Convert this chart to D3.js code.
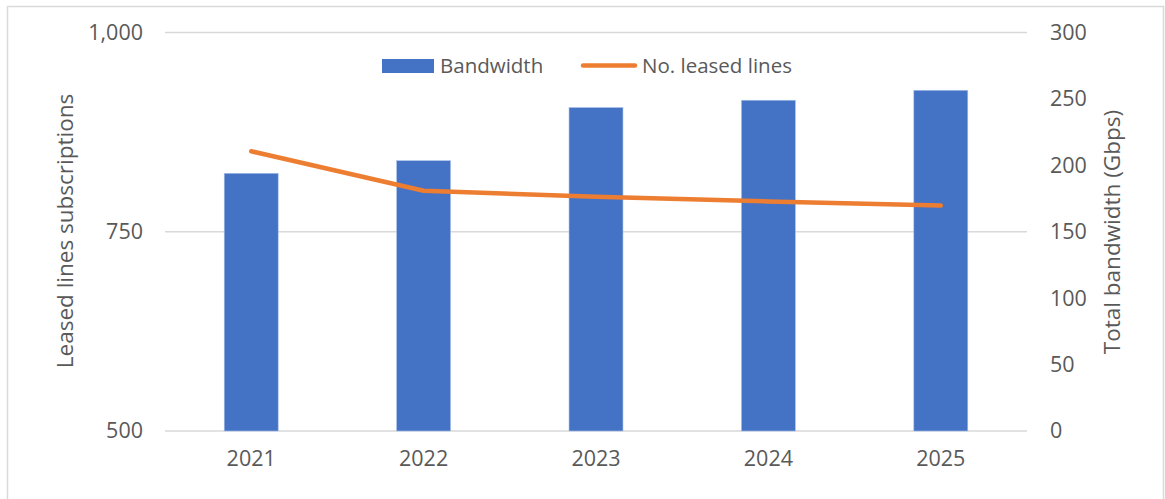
<!DOCTYPE html>
<html><head><meta charset="utf-8">
<script src="https://cdn.jsdelivr.net/npm/d3@7"></script>
<style>body{margin:0;background:#fff}svg{display:block}text{font-family:"Open Sans",sans-serif;fill:#595959}</style>
</head><body>
<svg id="c" width="1165" height="499"></svg>
<script>
const years = ["2021","2022","2023","2024","2025"];
const bandwidth = [194, 203.5, 243.5, 249, 256.5];
const leasedLines = [851, 801.5, 794, 788, 783];
const leftTicks = [500, 750, 1000];
const rightTicks = [0, 50, 100, 150, 200, 250, 300];

const svg = d3.select("#c");
const L = 165, R = 1027, T = 32.5, B = 431;
const FS = "21.5px";

svg.append("rect").attr("x",7.5).attr("y",6.5).attr("width",1156).attr("height",520)
  .attr("fill","none").attr("stroke","#d9d9d9").attr("stroke-width",1.5);

const x = d3.scaleBand().domain(years).range([L,R]).padding(0);
const yL = d3.scaleLinear().domain([500,1000]).range([B,T]);
const yR = d3.scaleLinear().domain([0,300]).range([B,T]);

// gridlines
svg.append("g").selectAll("line").data(leftTicks).join("line")
  .attr("x1",L).attr("x2",R).attr("y1",d=>yL(d)).attr("y2",d=>yL(d))
  .attr("stroke","#d9d9d9").attr("stroke-width",1.5);

// left axis
const axL = d3.axisLeft(yL).tickValues(leftTicks).tickFormat(d3.format(",")).tickSize(0).tickPadding(22);
const gL = svg.append("g").attr("transform",`translate(${L},0)`).call(axL);
gL.select(".domain").remove();
gL.selectAll("text").style("font-size",FS).attr("fill","#595959").attr("font-family","Open Sans");

// right axis
const axR = d3.axisRight(yR).tickValues(rightTicks).tickSize(0).tickPadding(23);
const gR = svg.append("g").attr("transform",`translate(${R},0)`).call(axR);
gR.select(".domain").remove();
gR.selectAll("text").style("font-size",FS).attr("fill","#595959").attr("font-family","Open Sans");

// x axis
const axX = d3.axisBottom(x).tickSize(0).tickPadding(20);
const gX = svg.append("g").attr("transform",`translate(0,${B})`).call(axX);
gX.select(".domain").remove();
gX.selectAll("text").style("font-size",FS).attr("fill","#595959").attr("font-family","Open Sans");

// bars
const bw = x.bandwidth()*0.313;
svg.append("g").selectAll("rect").data(years).join("rect")
  .attr("x",(d)=>x(d)+x.bandwidth()/2-bw/2)
  .attr("y",(d,i)=>yR(bandwidth[i]))
  .attr("width",bw)
  .attr("height",(d,i)=>yR(0)-yR(bandwidth[i]))
  .attr("fill","#4472c4").attr("stroke","#a9c0ea").attr("stroke-width",0.6);

// line
const line = d3.line().x((d,i)=>x(years[i])+x.bandwidth()/2).y(d=>yL(d));
svg.append("path").datum(leasedLines).attr("d",line)
  .attr("fill","none").attr("stroke","#ed7d31").attr("stroke-width",4.5)
  .attr("stroke-linecap","round").attr("stroke-linejoin","round");

// axis titles
svg.append("text").attr("transform","translate(73,231) rotate(-90)")
  .attr("text-anchor","middle").style("font-size","22.5px").text("Leased lines subscriptions");
svg.append("text").attr("transform","translate(1120,232) rotate(-90)")
  .attr("text-anchor","middle").style("font-size","22.5px").text("Total bandwidth (Gbps)");

// legend
const lg = svg.append("g");
lg.append("rect").attr("x",382).attr("y",59).attr("width",52).attr("height",14).attr("fill","#4472c4");
lg.append("text").attr("x",440).attr("y",73).style("font-size","20.5px").text("Bandwidth");
lg.append("line").attr("x1",583).attr("x2",635).attr("y1",65.5).attr("y2",65.5)
  .attr("stroke","#ed7d31").attr("stroke-width",4.5).attr("stroke-linecap","round");
lg.append("text").attr("x",642).attr("y",73).style("font-size","20.5px").text("No. leased lines");
</script>
</body></html>
